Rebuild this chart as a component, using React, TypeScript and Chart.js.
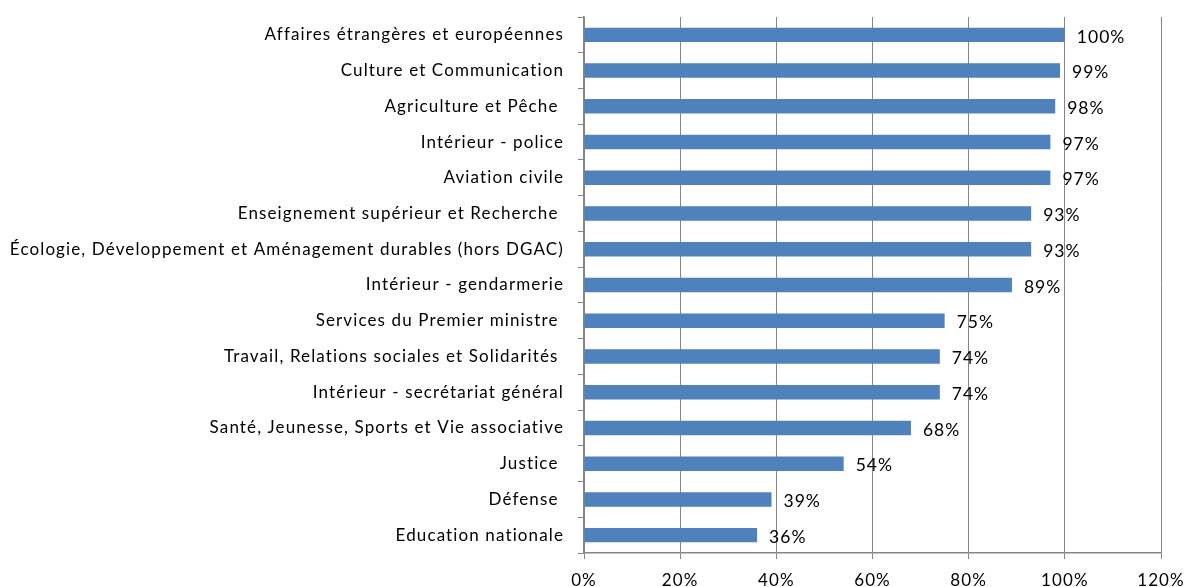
import React, { useEffect, useRef } from "react";
import { Chart, registerables } from "chart.js";

Chart.register(...registerables);

const categories: string[] = [
  "Affaires étrangères et européennes",
  "Culture et Communication",
  "Agriculture et Pêche ",
  "Intérieur - police",
  "Aviation civile",
  "Enseignement supérieur et Recherche ",
  "Écologie, Développement et Aménagement durables (hors DGAC)",
  "Intérieur - gendarmerie",
  "Services du Premier ministre ",
  "Travail, Relations sociales et Solidarités ",
  "Intérieur - secrétariat général",
  "Santé, Jeunesse, Sports et Vie associative",
  "Justice ",
  "Défense ",
  "Education nationale",
];

const values: number[] = [100, 99, 98, 97, 97, 93, 93, 89, 75, 74, 74, 68, 54, 39, 36];

const xTicks: number[] = [0, 20, 40, 60, 80, 100, 120];

const FONT = "Lato, 'Open Sans', sans-serif";
const GRID = "#868686";

const spacingPlugin = {
  id: "letterSpacing",
  beforeDraw(chart: any) {
    chart.ctx.letterSpacing = "1.12px";
  },
};

const labelPlugin = {
  id: "barValueLabels",
  afterDatasetsDraw(chart: any) {
    const ctx = chart.ctx;
    const meta = chart.getDatasetMeta(0);
    ctx.save();
    ctx.letterSpacing = "1px";
    ctx.font = `17.5px ${FONT}`;
    ctx.fillStyle = "#000000";
    ctx.textAlign = "left";
    ctx.textBaseline = "middle";
    meta.data.forEach((bar: any, i: number) => {
      ctx.fillText(`${values[i]}%`, bar.x + 12, bar.y + 2);
    });
    ctx.restore();
  },
};

export default function App() {
  const canvasRef = useRef<HTMLCanvasElement | null>(null);

  useEffect(() => {
    if (!canvasRef.current) return;
    const chart = new Chart(canvasRef.current, {
      type: "bar",
      data: {
        labels: categories,
        datasets: [
          {
            data: values,
            backgroundColor: "#4F81BD",
            borderWidth: 0,
            barPercentage: 0.405,
            categoryPercentage: 1,
          },
        ],
      },
      options: {
        indexAxis: "y",
        animation: false,
        responsive: true,
        maintainAspectRatio: false,
        layout: { padding: { top: 17, right: 24, left: 0, bottom: 0 } },
        plugins: {
          legend: { display: false },
          tooltip: { enabled: false },
        },
        scales: {
          x: {
            min: 0,
            max: 120,
            afterBuildTicks: (scale: any) => {
              scale.ticks = xTicks.map((v) => ({ value: v }));
            },
            afterFit: (scale: any) => {
              scale.height = 34;
              scale.paddingLeft = 0;
              scale.paddingRight = 0;
            },
            ticks: {
              callback: (v: any) => `${v}%`,
              color: "#000000",
              font: { family: FONT, size: 17 },
              padding: 11,
              maxRotation: 0,
            },
            grid: {
              color: GRID,
              lineWidth: 1,
              tickLength: 6,
              drawTicks: true,
            },
            border: { color: GRID, width: 1.5 },
          },
          y: {
            afterFit: (scale: any) => {
              scale.width = 584;
              scale.paddingTop = 0;
              scale.paddingBottom = 0;
            },
            ticks: {
              color: "#000000",
              font: { family: FONT, size: 17 },
              padding: 14,
              autoSkip: false,
            },
            grid: {
              drawOnChartArea: false,
              color: GRID,
              tickLength: 6,
              offset: true,
            },
            border: { color: GRID, width: 1.5 },
          },
        },
      },
      plugins: [spacingPlugin, labelPlugin],
    });
    return () => chart.destroy();
  }, []);

  return (
    <div style={{ position: "fixed", left: 0, top: 0, width: 1185, height: 587, background: "#ffffff" }}>
      <canvas ref={canvasRef} />
    </div>
  );
}
